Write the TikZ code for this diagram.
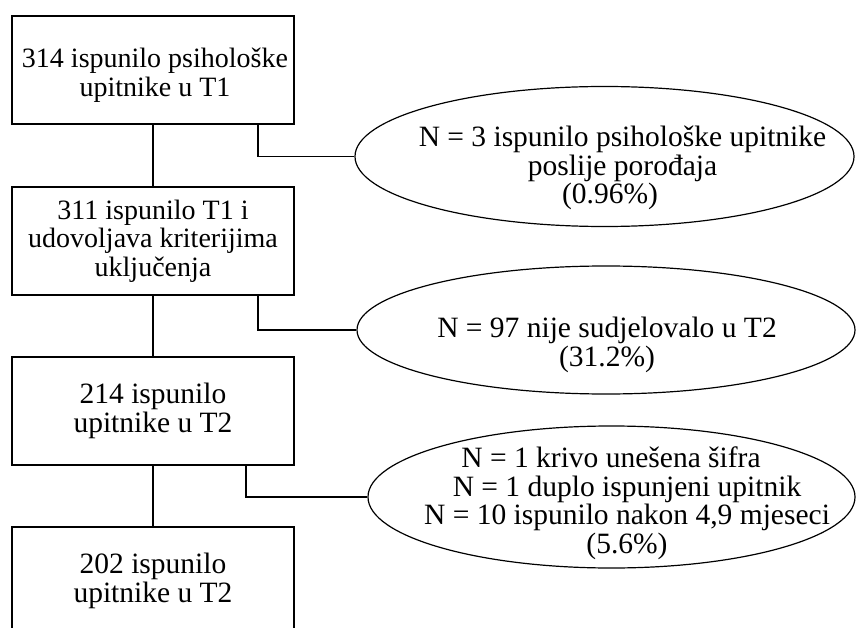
\documentclass[tikz,border=0pt]{standalone}
\usepackage{fontspec}
\setmainfont{Liberation Serif}
\usetikzlibrary{shapes.geometric}
\begin{document}
\begin{tikzpicture}[x=1pt,y=-1pt,
  stagebox/.style={draw, line width=1.2pt, minimum width=282pt, minimum height=108pt,
    inner sep=0pt, align=center},
  boxtxt/.style={align=center, inner sep=0pt},
  fsmall/.style={font=\fontsize{28}{28.5}\selectfont},
  fbig/.style={font=\fontsize{29.5}{28.5}\selectfont},
  exclell/.style={draw, ellipse, line width=1.2pt, inner sep=0pt},
  excltxt/.style={align=center, inner sep=0pt, fbig},
  link/.style={line width=1.2pt}]
\useasboundingbox (0,0) rectangle (856,628);

\node[stagebox] (b1) at (153,70) {};
\node[boxtxt, fsmall] (b1t) at (155,75) {314 ispunilo psihološke\\upitnike u T1};
\node[stagebox, fsmall] (b2) at (153,241) {311 ispunilo T1 i\\udovoljava kriterijima\\uključenja};
\node[stagebox, fbig] (b3) at (153,411) {214 ispunilo\\upitnike u T2};
\node[stagebox, fbig] (b4) at (153,581) {202 ispunilo\\upitnike u T2};

\node[exclell, minimum width=499pt, minimum height=140pt] (e1) at (604.5,156.5) {};
\node[exclell, minimum width=498pt, minimum height=128pt] (e2) at (606,330) {};
\node[exclell, minimum width=487pt, minimum height=142pt] (e3) at (611.5,497) {};

\node[excltxt] (t1) at (622.5,168) {N = 3 ispunilo psihološke upitnike\\poslije porođaja\\(0.96\%)\hspace*{25pt}};
\node[excltxt] (t2) at (607,345) {N = 97 nije sudjelovalo u T2\\(31.2\%)};
\node[excltxt] (t3) at (627,503) {N = 1 krivo unešena šifra\hspace*{32pt}\\N = 1 duplo ispunjeni upitnik\hspace*{16pt}\\N = 10 ispunilo nakon 4,9 mjeseci\\(5.6\%)};

\draw[link] (b1.south) -- (b2.north);
\draw[link] (b2.south) -- (b3.north);
\draw[link] (b3.south) -- (b4.north);

\draw[link] ([xshift=105pt]b1.south) |- (e1.west);
\draw[link] ([xshift=105pt]b2.south) |- (e2.west);
\draw[link] ([xshift=93pt]b3.south) |- (e3.west);
\end{tikzpicture}
\end{document}
